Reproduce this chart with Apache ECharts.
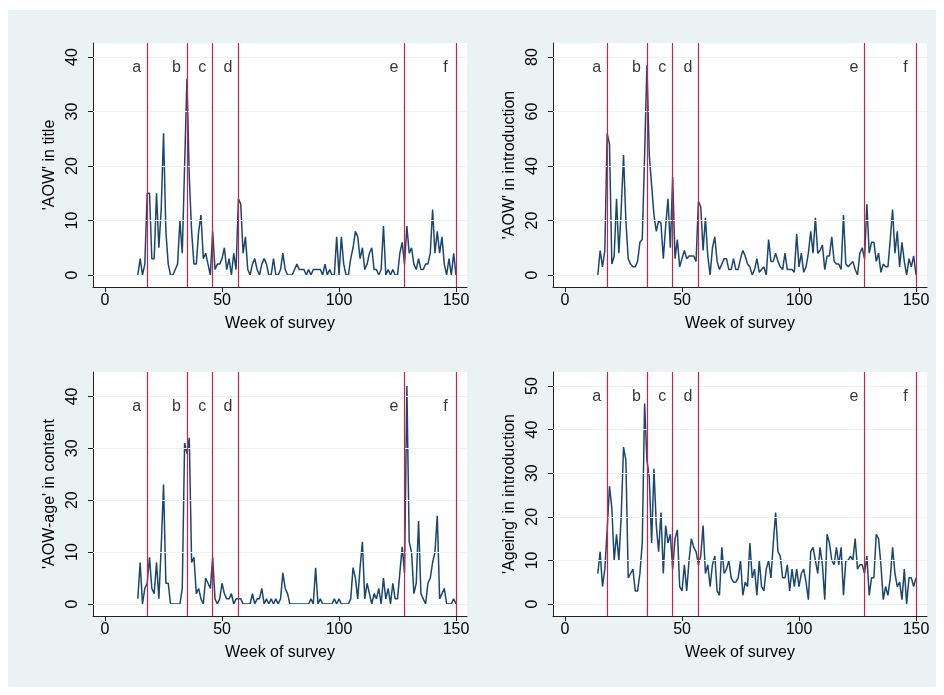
<!DOCTYPE html>
<html>
<head>
<meta charset="utf-8">
<script src="https://cdn.jsdelivr.net/npm/echarts@6/dist/echarts.min.js"></script>
<style>
html, body { margin: 0; padding: 0; background: #fff; }
#chart { width: 944px; height: 695px; }
</style>
</head>
<body>
<div id="chart"></div>
<script>
// weeks of the survey, 14 .. 150
const weeks = [];
for (let w = 14; w <= 150; w++) weeks.push(w);

// 'AOW' in title
const aowTitle = [
  0, 3, 0, 2, 15, 15, 3, 3, 15, 5,
  12, 26, 8, 2, 0, 0, 1, 2, 10, 4,
  20, 36, 18, 8, 2, 2, 8, 11, 3, 4,
  2, 0, 8, 1, 2, 2, 3, 5, 1, 3,
  0, 4, 1, 14, 13, 4, 7, 1, 0, 2,
  3, 1, 0, 2, 3, 2, 0, 0, 3, 0,
  0, 1, 4, 1, 0, 0, 0, 1, 2, 1,
  1, 1, 0, 1, 0, 1, 1, 1, 1, 0,
  2, 0, 1, 0, 0, 7, 0, 7, 2, 0,
  0, 3, 5, 8, 7, 3, 5, 1, 2, 4,
  5, 1, 1, 0, 1, 9, 0, 1, 0, 1,
  0, 0, 4, 6, 2, 9, 4, 5, 2, 1,
  3, 1, 1, 2, 2, 4, 12, 4, 8, 4,
  7, 2, 0, 3, 0, 4, 0
];

// 'AOW' in introduction
const aowIntro = [
  0, 9, 3, 9, 52, 48, 4, 7, 28, 8,
  24, 44, 20, 6, 4, 3, 3, 5, 12, 13,
  44, 77, 44, 33, 22, 16, 20, 19, 6, 18,
  28, 10, 36, 6, 13, 3, 6, 9, 6, 7,
  7, 7, 5, 27, 25, 9, 21, 7, 0, 10,
  14, 5, 2, 4, 6, 6, 2, 2, 6, 2,
  2, 6, 9, 7, 4, 3, 0, 2, 6, 1,
  2, 3, 0, 13, 5, 5, 8, 5, 3, 2,
  8, 2, 2, 2, 1, 15, 3, 8, 1, 3,
  8, 16, 8, 21, 8, 9, 11, 2, 7, 7,
  14, 5, 4, 4, 2, 22, 4, 3, 4, 5,
  2, 0, 8, 10, 6, 26, 8, 12, 12, 5,
  8, 1, 4, 3, 3, 13, 24, 8, 16, 3,
  12, 5, 0, 6, 3, 7, 0
];

// 'AOW-age' in content
const ageContent = [
  1, 8, 0, 3, 4, 9, 3, 2, 8, 1,
  11, 23, 4, 4, 0, 0, 0, 0, 0, 3,
  31, 29, 32, 8, 9, 2, 3, 1, 0, 5,
  4, 3, 9, 1, 0, 1, 4, 2, 1, 1,
  2, 0, 1, 1, 1, 0, 0, 0, 0, 2,
  0, 1, 1, 3, 0, 1, 0, 1, 0, 1,
  0, 1, 6, 3, 2, 0, 0, 0, 0, 0,
  0, 0, 0, 0, 1, 0, 7, 0, 1, 0,
  0, 0, 0, 0, 1, 0, 1, 0, 0, 0,
  0, 1, 7, 5, 1, 7, 12, 1, 4, 2,
  0, 2, 1, 3, 0, 5, 1, 3, 0, 4,
  1, 1, 6, 11, 6, 42, 12, 10, 2, 4,
  16, 2, 1, 0, 4, 5, 8, 10, 17, 1,
  2, 3, 0, 0, 0, 1, 0
];

// 'Ageing' in introduction
const ageingIntro = [
  7, 12, 4, 8, 17, 27, 22, 10, 16, 10,
  20, 36, 33, 6, 7, 8, 3, 3, 7, 14,
  46, 33, 29, 14, 31, 18, 12, 21, 7, 18,
  14, 16, 8, 15, 17, 4, 3, 9, 3, 10,
  15, 13, 12, 9, 11, 18, 7, 9, 4, 9,
  11, 3, 2, 13, 7, 8, 10, 6, 5, 5,
  6, 10, 2, 5, 4, 14, 6, 8, 2, 10,
  4, 3, 8, 10, 6, 14, 21, 12, 11, 6,
  6, 9, 3, 8, 4, 8, 4, 7, 8, 5,
  1, 12, 13, 10, 7, 13, 9, 1, 16, 14,
  10, 9, 13, 9, 13, 2, 10, 10, 11, 10,
  15, 8, 9, 9, 7, 11, 2, 6, 6, 16,
  15, 9, 1, 4, 2, 6, 13, 7, 4, 5,
  1, 8, 0, 6, 6, 4, 6
];

// event lines and their letters
const eventWeeks = [18, 35, 46, 57, 128, 150];
const eventLabels = ['a', 'b', 'c', 'd', 'e', 'f'];
const xTicks = [0, 50, 100, 150];

const panels = [
  { title: "'AOW' in title", values: aowTitle, yTicks: [0, 10, 20, 30, 40] },
  { title: "'AOW' in introduction", values: aowIntro, yTicks: [0, 20, 40, 60, 80] },
  { title: "'AOW-age' in content", values: ageContent, yTicks: [0, 10, 20, 30, 40] },
  { title: "'Ageing' in introduction", values: ageingIntro, yTicks: [0, 10, 20, 30, 40, 50] }
];

// plot region placement (px) and axis ranges
const layout = [
  { left: 93, top: 43, yMin: -2.2, yMax: 42.57 },
  { left: 553, top: 43, yMin: -4.4, yMax: 85.14 },
  { left: 93, top: 372, yMin: -2.31, yMax: 44.7 },
  { left: 553, top: 372, yMin: -2.75, yMax: 53.21 }
];

const FONT = 'Liberation Sans, Arial, sans-serif';
const AXIS = '#222';
const NAVY = '#1a476f';
const RED = '#d21f48';
const GRIDLINE = '#eaf2f3';

const grids = [], xAxes = [], yAxes = [], series = [];

panels.forEach((p, i) => {
  const L = layout[i];
  const top = p.yTicks[p.yTicks.length - 1];
  grids.push({
    left: L.left, top: L.top, width: 374, height: 244,
    show: true, backgroundColor: '#fff', borderWidth: 0
  });
  xAxes.push({
    gridIndex: i, type: 'value', min: -5.15, max: 154.7,
    axisLine: { show: true, onZero: false, lineStyle: { color: AXIS, width: 1 } },
    axisTick: { show: true, customValues: xTicks, length: 5, lineStyle: { color: AXIS } },
    axisLabel: { customValues: xTicks, fontSize: 16, color: '#000', margin: 6, fontFamily: FONT },
    splitLine: { show: false },
    name: 'Week of survey', nameLocation: 'middle', nameGap: 29,
    nameTextStyle: { fontSize: 16, color: '#000', fontFamily: FONT }
  });
  yAxes.push({
    gridIndex: i, type: 'value', min: L.yMin, max: L.yMax,
    axisLine: { show: true, onZero: false, lineStyle: { color: AXIS, width: 1 } },
    axisTick: { show: true, customValues: p.yTicks, length: 5, lineStyle: { color: AXIS } },
    axisLabel: { customValues: p.yTicks, fontSize: 16, color: '#000', margin: 12, rotate: 90, fontFamily: FONT },
    splitLine: { show: false },
    name: p.title, nameLocation: 'middle', nameGap: 35, nameRotate: 90,
    nameTextStyle: { fontSize: 16, color: '#000', fontFamily: FONT }
  });

  // horizontal gridlines
  series.push({
    type: 'line', xAxisIndex: i, yAxisIndex: i, data: [], z: 1,
    markLine: {
      silent: true, symbol: 'none', label: { show: false },
      lineStyle: { color: GRIDLINE, width: 1.2, type: 'solid' },
      data: p.yTicks.map(v => ({ yAxis: v }))
    }
  });

  // weekly counts
  series.push({
    type: 'line', xAxisIndex: i, yAxisIndex: i, z: 3,
    data: weeks.map((w, k) => [w, p.values[k]]),
    showSymbol: false, symbol: 'none',
    lineStyle: { color: NAVY, width: 1.5 }
  });

  // event lines + letters
  series.push({
    type: 'scatter', xAxisIndex: i, yAxisIndex: i, z: 5,
    symbolSize: 1, itemStyle: { color: 'rgba(0,0,0,0)' },
    data: eventWeeks.map((w, k) => ({ value: [w - 4.5, top * 0.95], name: eventLabels[k] })),
    label: {
      show: true, position: 'inside', formatter: '{b}',
      fontSize: 16, color: '#000', fontFamily: FONT
    },
    markLine: {
      silent: true, symbol: 'none', label: { show: false },
      lineStyle: { color: RED, width: 1.2, type: 'solid' },
      data: eventWeeks.map(w => ({ xAxis: w }))
    }
  });
});

const chart = echarts.init(document.getElementById('chart'));
chart.setOption({
  animation: false,
  backgroundColor: '#fff',
  graphic: [{
    type: 'rect', z: -10, silent: true,
    shape: { x: 8, y: 10, width: 928, height: 677 },
    style: { fill: '#eaf2f3' }
  }],
  grid: grids,
  xAxis: xAxes,
  yAxis: yAxes,
  series: series
});
</script>
</body>
</html>
